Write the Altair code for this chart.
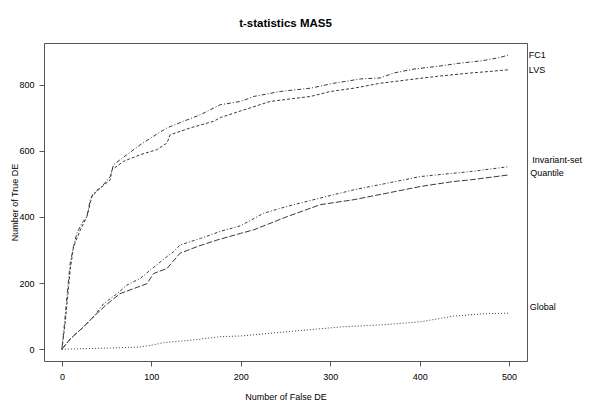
import altair as alt
import pandas as pd

series_names = ["FC1", "LVS", "Invariant-set", "Quantile", "Global"]

fc1_x = [0, 3, 5.6, 9.3, 13, 16.8, 22.4, 28, 31.7, 35.4, 44.7, 54, 57.8, 72.7, 87.6, 102.6, 117.5, 136, 155, 177, 200, 214.5, 244, 278, 304, 334, 356, 371, 394, 420, 446, 470, 490, 500]
fc1_y = [0, 80, 159, 260, 310, 351, 381, 401, 452, 472, 492, 522, 558, 588, 618, 644, 669, 689, 709, 739, 749, 764, 779, 789, 804, 817, 820, 835, 847, 855, 865, 872, 882, 890]

lvs_x = [0, 3.7, 9.3, 13, 20.5, 28, 33.6, 41, 54, 56, 69, 87.6, 106, 117.5, 121, 143.6, 169.7, 177, 199.6, 233, 278, 300, 326.5, 356, 386, 420, 457, 480, 500]
lvs_y = [0, 80, 240, 310, 360, 401, 462, 482, 512, 542, 568, 588, 603, 623, 648, 669, 689, 700, 720, 749, 764, 779, 789, 804, 814, 825, 835, 840, 845]

inv_x = [0, 9.3, 24, 35, 46.8, 61.7, 72.7, 87.6, 98.8, 117.5, 125, 132, 155, 177, 199.6, 225.7, 252, 289, 326.5, 364, 401, 438, 457, 480, 500]
inv_y = [0, 31, 67, 97, 138, 168, 194, 214, 239, 280, 295, 315, 335, 356, 373, 411, 432, 457, 482, 502, 522, 532, 537, 545, 552]

qua_x = [0, 9.3, 24, 35, 48.6, 65, 80, 95, 102.6, 117.5, 132, 151, 173.5, 199.6, 214.5, 252, 289, 326.5, 364, 401, 438, 457, 480, 500]
qua_y = [0, 31, 67, 97, 132, 168, 183, 198, 229, 244, 290, 310, 330, 350, 361, 401, 437, 452, 472, 492, 507, 512, 520, 527]

glo_x = [0, 30, 60, 87.6, 100, 114, 143.6, 177, 200, 252, 315, 360, 401, 438, 470, 500]
glo_y = [0, 2, 4, 7, 12, 20, 27, 38, 40, 53, 68, 74, 83, 100, 107, 109]

label_x = [522, 522, 526, 523.6, 523]
label_y = [890.7, 843, 573, 532, 129]

x_ticks = [0, 100, 200, 300, 400, 500]
y_ticks = [0, 200, 400, 600, 800]

rows = []
for name, xs, ys in zip(series_names,
                        [fc1_x, lvs_x, inv_x, qua_x, glo_x],
                        [fc1_y, lvs_y, inv_y, qua_y, glo_y]):
    for i, (a, b) in enumerate(zip(xs, ys)):
        rows.append({"series": name, "fde": a, "tde": b, "order": i})
df = pd.DataFrame(rows)
labels = pd.DataFrame({"series": series_names, "lx": label_x, "ly": label_y})

FONT = "Liberation Sans"
dashes = [[1, 2, 4, 2], [3, 2], [1, 2, 3, 2], [6, 2], [1, 2]]

xscale = alt.Scale(domain=[-20, 520], nice=False, zero=False)
yscale = alt.Scale(domain=[-35.6, 925.6], nice=False, zero=False)

lines = alt.Chart(df).mark_line(color="#3a3a3a", strokeWidth=1).encode(
    x=alt.X("fde:Q", scale=xscale,
            axis=alt.Axis(values=x_ticks, title="Number of False DE",
                          titleY=35, titleBaseline="middle")),
    y=alt.Y("tde:Q", scale=yscale,
            axis=alt.Axis(values=y_ticks, title="Number of True DE",
                          titleX=-30, titleBaseline="middle")),
    strokeDash=alt.StrokeDash("series:N",
                              scale=alt.Scale(domain=series_names, range=dashes),
                              legend=None),
    order="order:Q",
)

text = alt.Chart(labels).mark_text(align="left", baseline="middle",
                                   font=FONT, fontSize=9, color="black").encode(
    x=alt.X("lx:Q", scale=xscale),
    y=alt.Y("ly:Q", scale=yscale),
    text="series:N",
)

chart = (lines + text).properties(
    width=483,
    height=318,
    padding={"left": 36, "top": 35, "right": 63, "bottom": 47},
    autosize=alt.AutoSizeParams(type="none"),
    title=alt.TitleParams("t-statistics  MAS5", font=FONT, fontSize=11.5,
                          fontWeight="bold", anchor="middle", frame="group",
                          baseline="alphabetic", offset=5, color="black"),
).configure_view(
    stroke="#555555", strokeWidth=1
).configure_axis(
    domain=False, grid=False, ticks=True, tickColor="#555555", tickSize=5,
    labelFont=FONT, labelFontSize=9, labelColor="black",
    titleFont=FONT, titleFontSize=9, titleFontWeight="normal", titleColor="black",
).configure_axisX(
    labelPadding=6
).configure_axisY(
    labelPadding=5, labelAngle=0
)

chart.save("out.html", embed_options={"renderer": "svg", "actions": False})
